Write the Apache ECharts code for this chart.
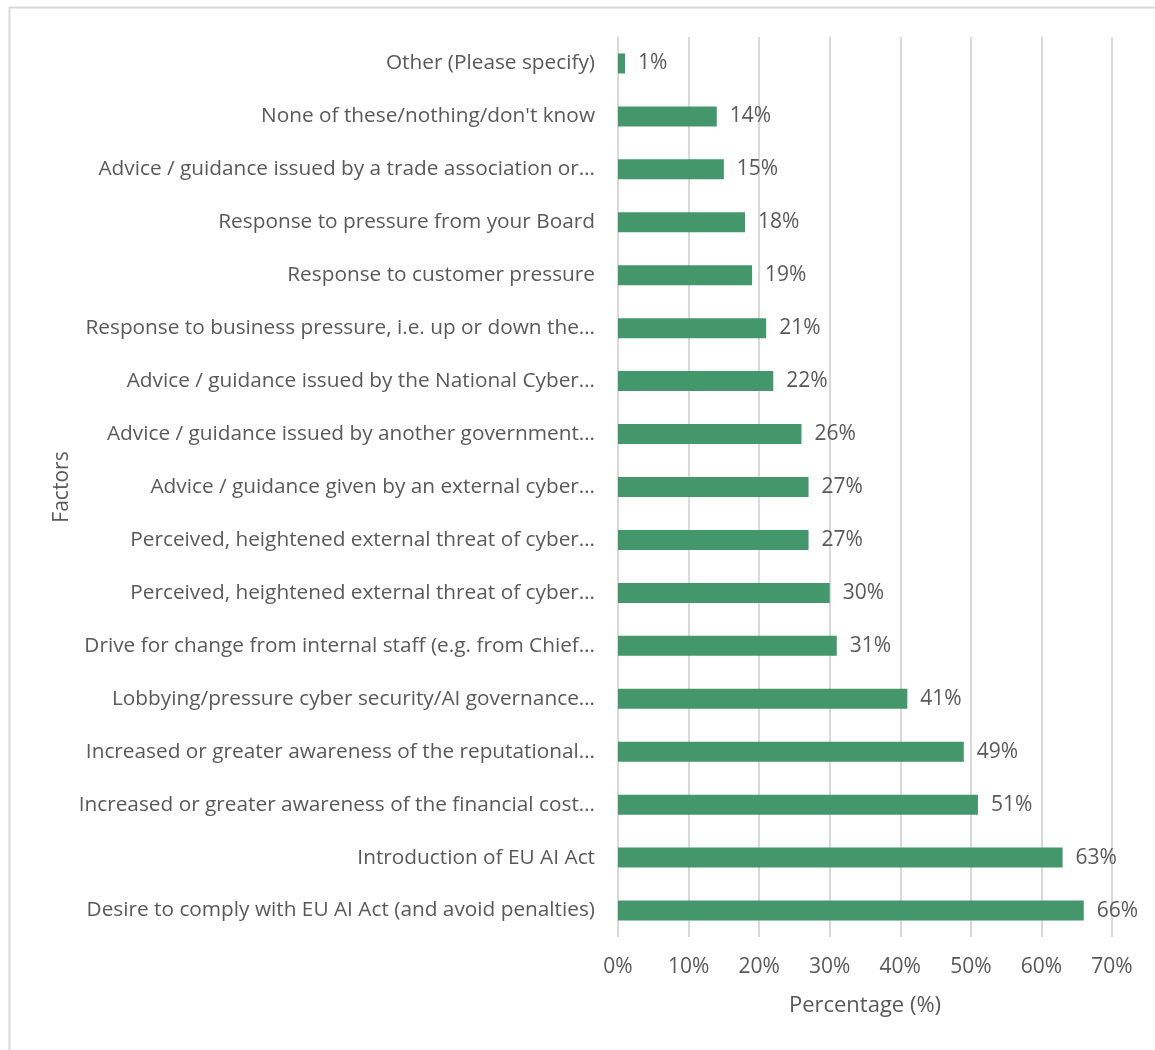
<!DOCTYPE html>
<html>
<head>
<meta charset="utf-8">
<script src="https://cdn.jsdelivr.net/npm/echarts@6/dist/echarts.min.js"></script>
<style>
html,body{margin:0;padding:0;background:#fff;}
#chart{width:1155px;height:1050px;}
</style>
</head>
<body>
<div id="chart"></div>
<script>
// Categories listed bottom to top
var categories = [
  "Desire to comply with EU AI Act (and avoid penalties)",
  "Introduction of EU AI Act",
  "Increased or greater awareness of the financial cost…",
  "Increased or greater awareness of the reputational…",
  "Lobbying/pressure cyber security/AI governance…",
  "Drive for change from internal staff (e.g. from Chief…",
  "Perceived, heightened external threat of cyber…",
  "Perceived, heightened external threat of cyber…",
  "Advice / guidance given by an external cyber…",
  "Advice / guidance issued by another government…",
  "Advice / guidance issued by the National Cyber…",
  "Response to business pressure, i.e. up or down the…",
  "Response to customer pressure",
  "Response to pressure from your Board",
  "Advice / guidance issued by a trade association or…",
  "None of these/nothing/don't know",
  "Other (Please specify)"
];
var values = [66, 63, 51, 49, 41, 31, 30, 27, 27, 26, 22, 21, 19, 18, 15, 14, 1];
var xTicks = [0, 10, 20, 30, 40, 50, 60, 70];

var FONT = "Open Sans";
var TXT = "#595959";
var chart = echarts.init(document.getElementById('chart'));
chart.setOption({
  animation: false,
  backgroundColor: '#ffffff',
  graphic: [{
    type: 'rect',
    shape: { x: 9.5, y: 7.5, width: 1300, height: 1200 },
    style: { fill: 'none', stroke: '#d9d9d9', lineWidth: 2 },
    silent: true
  }],
  grid: { left: 618, right: 43, top: 37, bottom: 113, containLabel: false },
  xAxis: {
    type: 'value',
    min: xTicks[0],
    max: xTicks[xTicks.length - 1],
    interval: 10,
    name: 'Percentage (%)',
    nameLocation: 'middle',
    nameGap: 58,
    nameTextStyle: { fontFamily: FONT, fontSize: 22, color: TXT },
    axisLine: { show: false },
    axisTick: { show: false },
    axisLabel: { formatter: '{value}%', fontFamily: FONT, fontSize: 21, color: TXT, margin: 20 },
    splitLine: { show: true, lineStyle: { color: '#d9d9d9', width: 2 } }
  },
  yAxis: {
    type: 'category',
    data: categories,
    name: 'Factors',
    nameLocation: 'middle',
    nameGap: 545,
    nameRotate: 90,
    nameTextStyle: { fontFamily: FONT, fontSize: 21, color: TXT },
    axisLine: { show: false },
    axisTick: { show: false },
    axisLabel: { fontFamily: FONT, fontSize: 20.8, color: TXT, margin: 23 }
  },
  series: [{
    type: 'bar',
    data: values,
    barWidth: 20,
    itemStyle: { color: '#43976a' },
    label: {
      show: true,
      position: 'right',
      distance: 13,
      formatter: '{c}%',
      fontFamily: FONT,
      fontSize: 21,
      color: TXT
    }
  }]
});
</script>
</body>
</html>
